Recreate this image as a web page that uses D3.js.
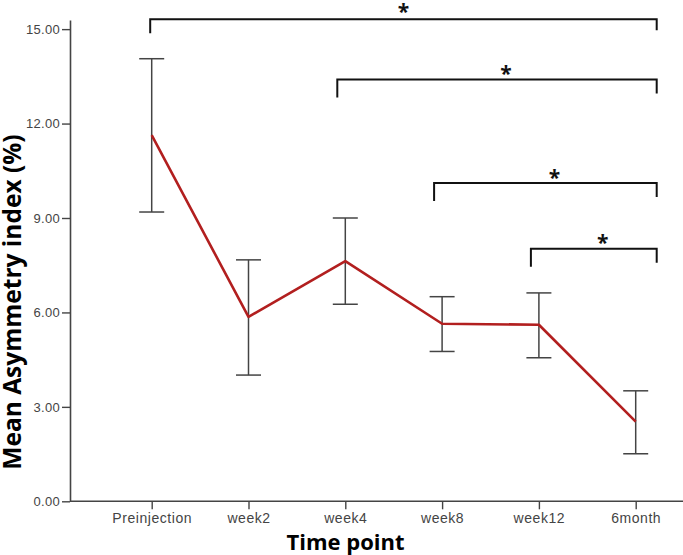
<!DOCTYPE html>
<html>
<head>
<meta charset="utf-8">
<script src="https://cdn.jsdelivr.net/npm/d3@7"></script>
<style>
  html, body { margin: 0; padding: 0; background: #fff; }
  svg { display: block; }
</style>
</head>
<body>
<svg id="chart" width="683" height="555"></svg>
<script>
const categories = ["Preinjection", "week2", "week4", "week8", "week12", "6month"];
const means = [11.63, 5.86, 7.63, 5.64, 5.61, 2.53];
const upper = [14.06, 7.67, 9.00, 6.50, 6.62, 3.51];
const lower = [9.19, 4.01, 6.26, 4.76, 4.56, 1.51];
const yTicks = [0, 3, 6, 9, 12, 15];
const bracketFrom = ["Preinjection", "week4", "week8", "week12"];
const bracketTo = ["6month", "6month", "6month", "6month"];
const bracketLevel = [15.31, 13.40, 10.11, 8.02];
const bracketLabel = ["*", "*", "*", "*"];

const svg = d3.select("#chart");
const axisLeftX = 70, axisRight = 683;

const y = d3.scaleLinear().domain([0, 15.29]).range([501.3, 20]);
const x = d3.scalePoint().domain(categories).range([151.7, 635.7]);

// Y axis
const gy = svg.append("g").attr("transform", `translate(${axisLeftX},0)`)
  .call(d3.axisLeft(y).tickValues(yTicks).tickFormat(d3.format(".2f")).tickSize(8).tickPadding(2).tickSizeOuter(0));
gy.select(".domain").attr("stroke", "#444").attr("stroke-width", 1.6);
gy.selectAll(".tick line").attr("stroke", "#444").attr("stroke-width", 1.4);
gy.selectAll(".tick text").attr("fill", "#444").style("font-family", "'Liberation Sans', Arial, sans-serif")
  .style("font-size", "13px").style("letter-spacing", "0.3px");

// X axis
const gx = svg.append("g").attr("transform", `translate(0,${y(0)})`)
  .call(d3.axisBottom(x).tickSize(8).tickPadding(4).tickSizeOuter(0));
gx.select(".domain").attr("d", `M${axisLeftX},0H${axisRight}`).attr("stroke", "#444").attr("stroke-width", 1.6);
gx.selectAll(".tick line").attr("stroke", "#444").attr("stroke-width", 1.4);
gx.selectAll(".tick text").attr("fill", "#444").style("font-family", "'Liberation Sans', Arial, sans-serif")
  .style("font-size", "14px").style("letter-spacing", "0.55px");

// Error bars
const rows = categories.map((c, i) => ({ c, m: means[i], hi: upper[i], lo: lower[i] }));
const eb = svg.append("g").attr("stroke", "#444").attr("stroke-width", 1.5).attr("fill", "none");
eb.selectAll("line.v").data(rows).join("line").attr("class", "v")
  .attr("x1", d => x(d.c)).attr("x2", d => x(d.c)).attr("y1", d => y(d.lo)).attr("y2", d => y(d.hi));
eb.selectAll("line.t").data(rows).join("line").attr("class", "t")
  .attr("x1", d => x(d.c) - 12.5).attr("x2", d => x(d.c) + 12.5).attr("y1", d => y(d.hi)).attr("y2", d => y(d.hi));
eb.selectAll("line.b").data(rows).join("line").attr("class", "b")
  .attr("x1", d => x(d.c) - 12.5).attr("x2", d => x(d.c) + 12.5).attr("y1", d => y(d.lo)).attr("y2", d => y(d.lo));

// Mean line
svg.append("path").datum(rows)
  .attr("fill", "none").attr("stroke", "#b21f1f").attr("stroke-width", 2.6).attr("stroke-linejoin", "round")
  .attr("d", d3.line().x(d => x(d.c)).y(d => y(d.m)));

// Significance brackets
const brackets = bracketFrom.map((f, i) => ({ f, t: bracketTo[i], lvl: bracketLevel[i], lab: bracketLabel[i], i }));
const bg = svg.append("g");
brackets.forEach(b => {
  const x1 = x(b.f) - (b.i === 0 ? 1.5 : 8);
  const x2 = x(b.t) + 21;
  const yy = y(b.lvl);
  const legL = b.i === 0 ? 14 : 18;
  const legR = b.i === 0 ? 11 : 14;
  bg.append("path")
    .attr("d", `M${x1},${yy + legL}V${yy}H${x2}V${yy + legR}`)
    .attr("fill", "none").attr("stroke", "#111").attr("stroke-width", 2);
  bg.append("text")
    .attr("x", (x1 + x2) / 2 + (b.i === 0 ? 0 : 9))
    .attr("y", yy + (b.i === 0 ? 0 : 1.5))
    .attr("text-anchor", "middle")
    .style("font-family", "'Open Sans', sans-serif").style("font-weight", "700").style("font-size", "21px")
    .attr("fill", "#111").text(b.lab);
});

// Axis titles
svg.append("text")
  .attr("transform", `translate(21,302) rotate(-90)`)
  .attr("text-anchor", "middle")
  .style("font-family", "'Open Sans', sans-serif").style("font-weight", "700").style("font-size", "24.5px")
  .attr("fill", "#000").text("Mean Asymmetry index (%)");
svg.append("text")
  .attr("x", 345.5).attr("y", 550)
  .attr("text-anchor", "middle")
  .style("font-family", "'Open Sans', sans-serif").style("font-weight", "700").style("font-size", "22px")
  .attr("fill", "#000").text("Time point");
</script>
</body>
</html>
